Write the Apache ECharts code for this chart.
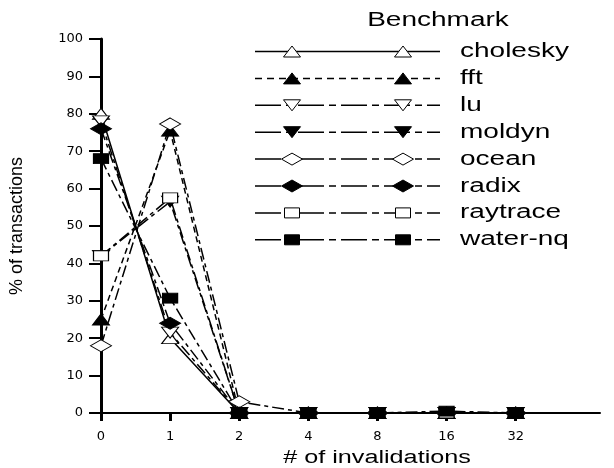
<!DOCTYPE html>
<html>
<head>
<meta charset="utf-8">
<script src="https://cdn.jsdelivr.net/npm/echarts@6/dist/echarts.min.js"></script>
<style>
html, body { margin: 0; padding: 0; background: #fff; }
#main { width: 614px; height: 468px; }
</style>
</head>
<body>
<div id="main"></div>
<script>
// x categories (# of invalidations), placed at equal steps
const xLabels = ['0', '1', '2', '4', '8', '16', '32'];
const benchmarks = ['cholesky', 'fft', 'lu', 'moldyn', 'ocean', 'radix', 'raytrace', 'water-nq'];

// % of transactions per benchmark
const cholesky = [80, 20, 0, 0, 0, 0, 0];
const fft = [25, 75.5, 0, 0, 0, 0, 0];
const lu = [78, 21.5, 0, 0, 0, 0, 0];
const moldyn = [42, 56.5, 0, 0, 0, 0, 0];
const ocean = [18, 77.3, 3, 0, 0, 0, 0];
const radix = [76, 24, 0, 0, 0, 0, 0];
const raytrace = [42, 57.5, 0, 0, 0, 0, 0];
const waterNq = [68, 30.7, 0, 0, 0, 0.5, 0];

const seriesValues = [cholesky, fft, lu, moldyn, ocean, radix, raytrace, waterNq];

// the original picture is stretched sideways, so are text and markers
const STRETCH = 1.4;
const FONT = '"Liberation Sans", Arial, sans-serif';
const TICK_FONT = '"DejaVu Sans", sans-serif';

const dashDot = [12, 4, 4, 4];
const styles = [
    { symbol: 'triangle', rotate: 0, filled: false, dash: 'solid', legendDash: null, size: [17, 11] },
    { symbol: 'triangle', rotate: 0, filled: true, dash: [6, 4], legendDash: [7, 5], size: [17, 11] },
    { symbol: 'triangle', rotate: 180, filled: false, dash: dashDot, legendDash: [26, 5, 7, 5], size: [17, 11] },
    { symbol: 'triangle', rotate: 180, filled: true, dash: dashDot, legendDash: [26, 5, 7, 5], size: [17, 11] },
    { symbol: 'diamond', rotate: 0, filled: false, dash: dashDot, legendDash: [26, 5, 7, 5], size: [21, 12] },
    { symbol: 'diamond', rotate: 0, filled: true, dash: dashDot, legendDash: [26, 5, 7, 5], size: [21, 12] },
    { symbol: 'rect', rotate: 0, filled: false, dash: dashDot, legendDash: [26, 5, 7, 5], size: [15, 10] },
    { symbol: 'rect', rotate: 0, filled: true, dash: dashDot, legendDash: [26, 5, 7, 5], size: [15, 10] }
];

function markerShape(st, cx, cy) {
    const w = st.size[0] / 2;
    const h = st.size[1] / 2;
    const style = {
        fill: st.filled ? '#000' : '#fff',
        stroke: '#000',
        lineWidth: 1
    };
    if (st.symbol === 'rect') {
        return { type: 'rect', z: 10, shape: { x: cx - w, y: cy - h, width: st.size[0], height: st.size[1] }, style: style };
    }
    let pts;
    if (st.symbol === 'diamond') {
        pts = [[cx, cy - h], [cx + w, cy], [cx, cy + h], [cx - w, cy]];
    } else if (st.rotate === 180) {
        pts = [[cx - w, cy - h], [cx + w, cy - h], [cx, cy + h]];
    } else {
        pts = [[cx, cy - h], [cx + w, cy + h], [cx - w, cy + h]];
    }
    return { type: 'polygon', z: 10, shape: { points: pts }, style: style };
}

// legend drawn by hand: one line with two markers per benchmark
const legendItems = [];
benchmarks.forEach((name, i) => {
    const st = styles[i];
    const y = 51.5 + i * 26.9;
    legendItems.push({
        type: 'line',
        shape: { x1: 255, y1: y, x2: 440, y2: y },
        style: { stroke: '#000', lineWidth: 1.5, lineDash: st.legendDash }
    });
    legendItems.push(markerShape(st, 292, y));
    legendItems.push(markerShape(st, 403, y));
    legendItems.push({
        type: 'text',
        x: 460,
        y: y,
        scaleX: STRETCH,
        style: { text: name, font: '20px ' + FONT, fill: '#000', verticalAlign: 'middle' }
    });
});

const series = benchmarks.map((name, i) => {
    const st = styles[i];
    return {
        name: name,
        type: 'line',
        data: seriesValues[i].map((v, j) => [j, v]),
        symbol: st.symbol,
        symbolSize: st.size,
        symbolRotate: st.rotate,
        showAllSymbol: true,
        lineStyle: { color: '#000', width: 1.5, type: st.dash },
        itemStyle: {
            color: st.filled ? '#000' : '#fff',
            borderColor: '#000',
            borderWidth: 1
        }
    };
});

const chart = echarts.init(document.getElementById('main'));
chart.setOption({
    animation: false,
    grid: { left: 101, right: 14, top: 39, bottom: 55 },
    xAxis: {
        type: 'value',
        min: 0,
        max: 7.22,
        splitLine: { show: false },
        axisLine: { lineStyle: { color: '#000', width: 2 } },
        axisTick: { customValues: [0, 1, 2, 3, 4, 5, 6], length: 8, lineStyle: { color: '#000', width: 3 } },
        axisLabel: {
            customValues: [0, 1, 2, 3, 4, 5, 6],
            formatter: v => xLabels[v],
            color: '#000',
            fontFamily: TICK_FONT,
            fontSize: 13,
            margin: 17
        }
    },
    yAxis: {
        type: 'value',
        min: 0,
        max: 100,
        interval: 10,
        name: '% of transactions',
        nameLocation: 'middle',
        nameRotate: 90,
        nameGap: 75,
        nameTextStyle: { color: '#000', fontFamily: FONT, fontSize: 18 },
        splitLine: { show: false },
        axisLine: { show: true, lineStyle: { color: '#000', width: 3 } },
        axisTick: { show: true, length: 12, lineStyle: { color: '#000', width: 2 } },
        axisLabel: {
            color: '#000',
            fontFamily: TICK_FONT,
            fontSize: 13,
            margin: 18
        }
    },
    graphic: [
        {
            type: 'text',
            x: 438,
            y: 20,
            scaleX: STRETCH,
            style: { text: 'Benchmark', font: '20px ' + FONT, fill: '#000', align: 'center', verticalAlign: 'middle' }
        },
        {
            type: 'text',
            x: 377,
            y: 458,
            scaleX: STRETCH,
            style: { text: '# of invalidations', font: '18px ' + FONT, fill: '#000', align: 'center', verticalAlign: 'middle' }
        }
    ].concat(legendItems),
    series: series
});
</script>
</body>
</html>
